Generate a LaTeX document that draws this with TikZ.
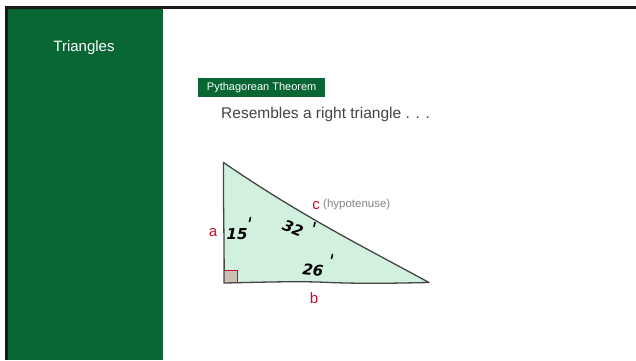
\documentclass[tikz,border=0pt]{standalone}
\usepackage{fontspec}
\setmainfont{Liberation Sans}
\newfontfamily\handfont{DejaVu Sans}
\definecolor{panelgreen}{HTML}{076633}
\definecolor{trifill}{HTML}{D2F0DE}
\definecolor{tristroke}{HTML}{454545}
\definecolor{labred}{HTML}{C8102E}
\definecolor{hypgray}{HTML}{858585}
\definecolor{bodygray}{HTML}{444444}
\definecolor{sqfill}{HTML}{CDBFB1}
\begin{document}
\begin{tikzpicture}[x=1pt,y=-1pt,
  sidelabel/.style={text=labred,font=\fontsize{15}{15}\selectfont,inner sep=0pt},
  handnum/.style={font=\handfont\fontsize{15}{15}\selectfont\bfseries\itshape,inner sep=0pt},
  tickmark/.style={line width=1.6pt,line cap=round}]
\useasboundingbox (0,0) rectangle (636,360);
\fill[white] (0,0) rectangle (636,360);
% frame lines
\fill[black!90] (5,6) rectangle (636,8.5);
\fill[black!90] (5,6) rectangle (8,360);
% side panel
\fill[panelgreen] (8,8.5) rectangle (163,360);
\node[text=white,font=\fontsize{15}{15}\selectfont,inner sep=0pt] (title) at (84,48) {Triangles};
% header box
\node[fill=panelgreen,text=white,font=\fontsize{11}{11}\selectfont,minimum width=127pt,minimum height=19pt,inner sep=0pt,anchor=north west] (pyth) at (198,78) {Pythagorean Theorem};
\node[text=bodygray,font=\fontsize{15.5}{16}\selectfont,inner sep=0pt,anchor=west] (res) at (221,114) {Resembles a right triangle . . .};
% triangle
\coordinate (A) at (223.5,162.5);
\coordinate (B) at (224,283);
\coordinate (C) at (429,282.5);
\fill[trifill] (A) .. controls (223,200) and (224.5,240) .. (B)
  .. controls (270,282) and (300,281) .. (330,282.5) .. controls (370,284) and (400,283) .. (C)
  .. controls (360,245) and (300,215) .. (A) -- cycle;
\fill[sqfill] (224,270) rectangle (237,283);
\draw[labred,line width=0.8pt] (224,270) -- (237,270) -- (237,283);
\draw[tristroke,line width=1.3pt,line join=round] (A) .. controls (223,200) and (224.5,240) .. (B)
  .. controls (270,282) and (300,281) .. (330,282.5) .. controls (370,284) and (400,283) .. (C)
  .. controls (360,245) and (300,215) .. (A) -- cycle;
% labels
\node[sidelabel] (la) at (213,233) {a};
\node[sidelabel] (lb) at (314,298) {b};
\node[sidelabel] (lc) at (316,206) {c};
\node[text=hypgray,font=\fontsize{11.5}{12}\selectfont,inner sep=0pt,anchor=west] (hyp) at (323,205) {(hypotenuse)};
% handwritten numbers
\node[handnum] (n15) at (237,234) {15};
\node[handnum,rotate=-22] (n32) at (293,228) {32};
\node[handnum,rotate=-6] (n26) at (313,270) {26};
% tick marks
\draw[tickmark] (250.5,217.5) -- (249.5,221.5);
\draw[tickmark] (315,222.5) -- (314,226.5);
\draw[tickmark] (332.5,254.5) -- (331.5,258.5);
\end{tikzpicture}
\end{document}
